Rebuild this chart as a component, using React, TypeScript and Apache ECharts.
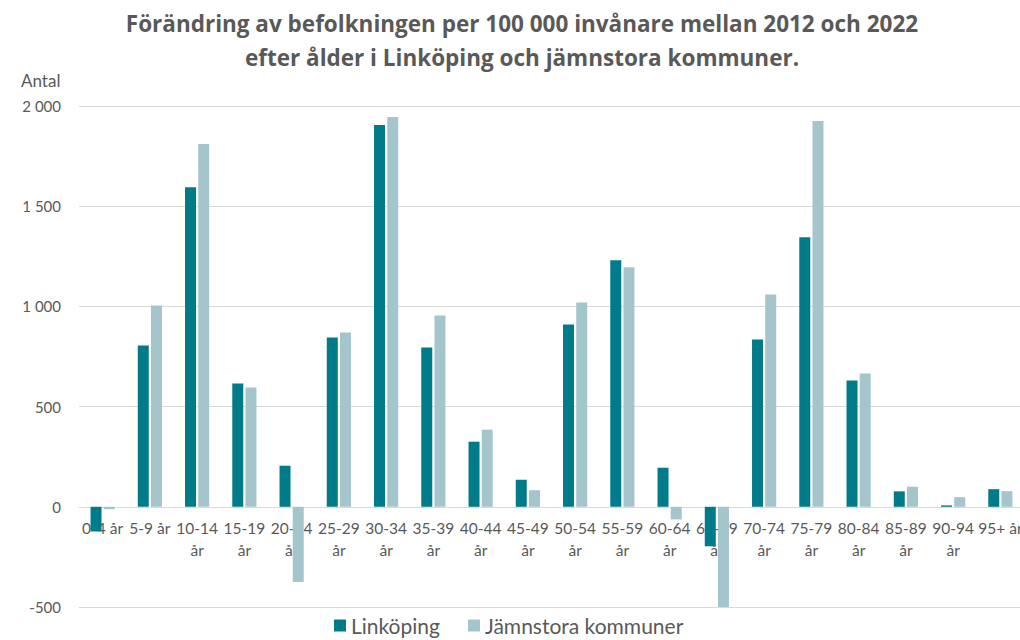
import React, { useEffect, useRef } from "react";
import * as echarts from "echarts";

const categories = [
  "0-4 år", "5-9 år", "10-14\når", "15-19\når", "20-24\når", "25-29\når", "30-34\når",
  "35-39\når", "40-44\når", "45-49\når", "50-54\når", "55-59\når", "60-64\når",
  "65-69\når", "70-74\når", "75-79\når", "80-84\når", "85-89\når", "90-94\når", "95+ år",
];
const linkoping = [-123, 805, 1595, 615, 205, 845, 1905, 795, 325, 135, 910, 1230, 195, -197, 835, 1345, 630, 77, 7, 88];
const jamnstora = [-12, 1005, 1810, 595, -375, 870, 1945, 955, 385, 83, 1020, 1195, -63, -510, 1060, 1925, 665, 100, 48, 78];
const titleLines = [
  "Förändring av befolkningen per 100 000 invånare mellan 2012 och 2022",
  "efter ålder i Linköping och jämnstora kommuner.",
];

const fmt = (v: number) => {
  const s = Math.abs(v).toString().replace(/\B(?=(\d{3})+(?!\d))/g, " ");
  return (v < 0 ? "-" : "") + s;
};

export default function App() {
  const ref = useRef<HTMLDivElement>(null);
  useEffect(() => {
    document.body.style.margin = "0";
    const chart = echarts.init(ref.current!, undefined, { renderer: "svg" });
    const font = "Lato, 'Open Sans', sans-serif";
    const gridTop = 106;
    const gridBottom = 33;
    const plotH = 640 - gridTop - gridBottom;
    const zeroOffset = -(plotH * 500) / 2500;
    chart.setOption({
      animation: false,
      textStyle: { fontFamily: font },
      title: {
        text: titleLines.join("\n"),
        left: 517,
        textAlign: "center",
        top: 1,
        textStyle: { fontFamily: "'Open Sans', sans-serif", fontSize: 22.5, fontWeight: "bold", color: "#595959", lineHeight: 34 },
      },
      graphic: [
        { type: "text", left: 21, top: 72, style: { text: "Antal", fontSize: 17, fill: "#595959", fontFamily: font } },
      ],
      legend: {
        bottom: -1,
        left: 329,
        itemWidth: 12,
        itemHeight: 12,
        itemGap: 28,
        icon: "rect",
        textStyle: { fontSize: 21, color: "#595959", fontFamily: font },
        data: ["Linköping", "Jämnstora kommuner"],
      },
      grid: { left: 79, right: 6, top: gridTop, bottom: gridBottom },
      xAxis: {
        type: "category",
        data: categories,
        position: "bottom",
        offset: zeroOffset,
        axisTick: { show: false },
        axisLine: { onZero: false, lineStyle: { color: "#d9d9d9" } },
        axisLabel: { color: "#595959", fontSize: 15.5, interval: 0, lineHeight: 22, margin: 10 },
      },
      yAxis: {
        type: "value",
        min: -500,
        max: 2000,
        interval: 500,
        axisLabel: { color: "#595959", fontSize: 15, formatter: fmt, margin: 18 },
        splitLine: { lineStyle: { color: "#d9d9d9" } },
      },
      series: [
        { name: "Linköping", type: "bar", data: linkoping, barWidth: 11, barGap: "20%", itemStyle: { color: "#007B89" }, clip: true },
        { name: "Jämnstora kommuner", type: "bar", data: jamnstora, barWidth: 11, itemStyle: { color: "#A5C5CC" }, clip: true },
      ],
    });
    return () => chart.dispose();
  }, []);
  return (
    <div style={{ width: 1020, height: 640, overflow: "hidden" }}>
      <div ref={ref} style={{ width: 1030, height: 640 }} />
    </div>
  );
}
